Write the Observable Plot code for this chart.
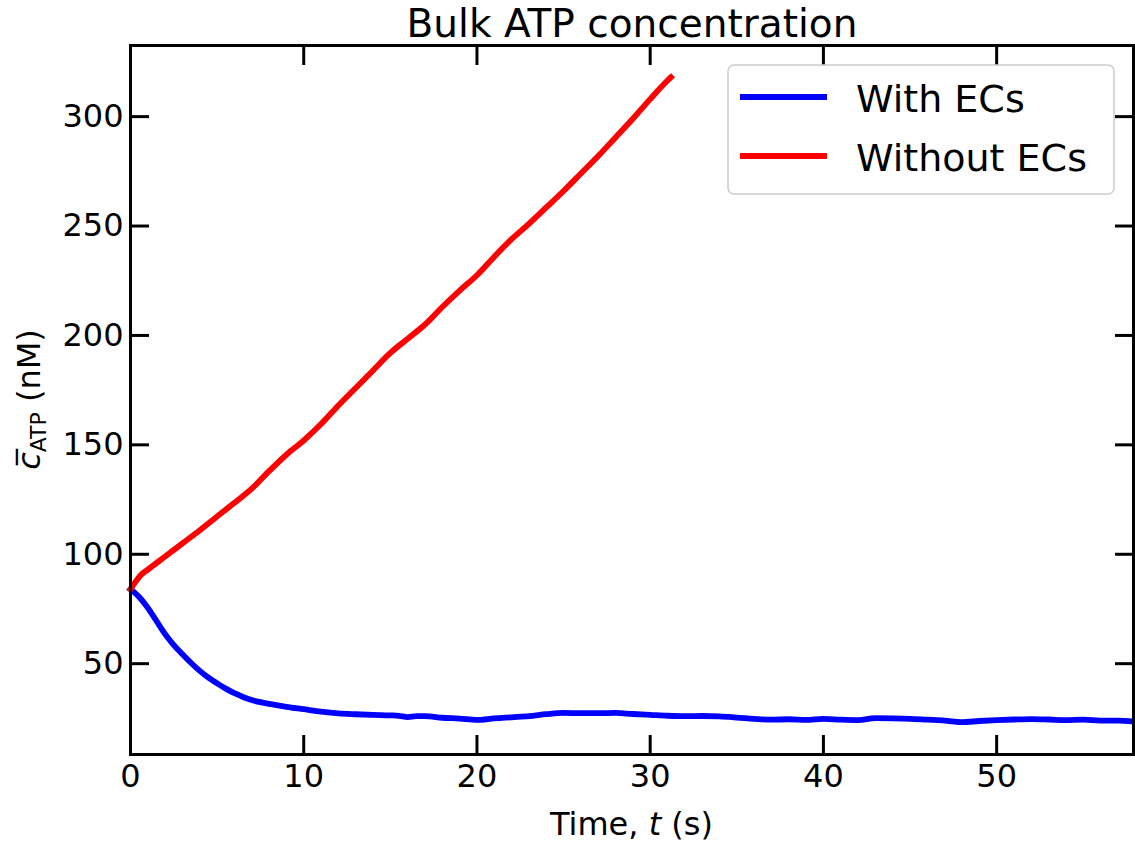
<!DOCTYPE html>
<html><head><meta charset="utf-8">
<script src="https://cdn.jsdelivr.net/npm/d3@7"></script>
<script src="https://cdn.jsdelivr.net/npm/@observablehq/plot@0.6"></script>
<style>body{margin:0;background:#fff} svg{display:block}</style>
</head><body><div id="chart"></div>
<script>
// Time (s) and bulk ATP concentration (nM)
const tWith = [0,0.5,1,1.5,2,2.5,3,3.5,4,4.5,5,5.5,6,6.5,7,7.5,8,9,10,11,12,13,14,15,15.5,16,16.5,17,18,19,20,21,22,23,24,25,26,27,28,29,30,31,32,33,34,35,36,37,38,39,40,41,42,43,44,45,46,47,48,49,50,51,52,53,54,55,56,57,57.9];
const cWith = [84,80.5,75.5,69.5,63.5,58.5,54.3,50.3,46.7,43.6,41,38.6,36.5,34.8,33.4,32.4,31.6,30.3,29.2,28.1,27.3,26.9,26.6,26.4,26.2,25.6,26,26,25.3,24.9,24.3,25,25.5,26,26.9,27.5,27.4,27.4,27.5,27,26.6,26.2,26,26.1,25.9,25.4,24.8,24.4,24.6,24.3,24.8,24.4,24.2,25.1,25,24.8,24.4,24,23.3,23.8,24.2,24.5,24.7,24.5,24.2,24.4,24,24,23.5];
const tWithout = [0,0.3,0.6,1,2,3,4,5,6,7,8,9,10,11,12,13,14,15,16,17,18,19,20,21,22,23,24,25,26,27,28,29,30,31,31.2];
const cWithout = [84,87.5,90.5,93,99,105,111,117.3,123.5,130,138,145.5,152,159.5,168,176,184,192,198.5,205,213,220.5,227.5,236,244,251,258.5,266,274,282,290.5,299,308,316.5,318];
const xTicks = [0,10,20,30,40,50];
const yTicks = [50,100,150,200,250,300];
const seriesNames = ["With ECs", "Without ECs"];
const seriesColors = ["#0000ff", "#ff0000"];
const titleText = "Bulk ATP concentration";

const rows = [
  ...tWith.map((t, i) => ({t, c: cWith[i], s: seriesNames[0]})),
  ...tWithout.map((t, i) => ({t, c: cWithout[i], s: seriesNames[1]}))
];

const W = 1135, H = 846, ml = 130, mr = 2, mt = 45, mb = 92;
const chart = Plot.plot({
  width: W, height: H,
  marginLeft: ml, marginRight: mr, marginTop: mt, marginBottom: mb,
  style: {fontFamily: "'DejaVu Sans', sans-serif", fontSize: "32px", color: "black", background: "white", overflow: "visible"},
  x: {domain: [0, 57.9]},
  y: {domain: [8.5, 332.5]},
  color: {domain: seriesNames, range: seriesColors},
  marks: [
    Plot.line(rows, {x: "t", y: "c", stroke: "s", z: "s", curve: "monotone-x", strokeWidth: 5.8, strokeLinecap: "square", strokeLinejoin: "round"}),
    Plot.frame({stroke: "black", strokeWidth: 3}),
    Plot.axisX(xTicks, {anchor: "bottom", tickSize: -19, strokeWidth: 3, fill: "none", label: null}),
    Plot.axisX(xTicks, {anchor: "top", tickSize: -19, strokeWidth: 3, fill: "none", label: null}),
    Plot.axisY(yTicks, {anchor: "left", tickSize: -19, strokeWidth: 3, fill: "none", label: null}),
    Plot.axisY(yTicks, {anchor: "right", tickSize: -19, strokeWidth: 3, fill: "none", label: null}),
    Plot.axisX(xTicks, {anchor: "bottom", tickSize: 0, tickPadding: 10, fontSize: 32, label: null}),
    Plot.axisY(yTicks, {anchor: "left", tickSize: 0, tickPadding: 7, fontSize: 32, label: null}),
    Plot.text([titleText], {frameAnchor: "top", dy: -9, lineAnchor: "bottom", fontSize: 39, fill: "black"})
  ]
});
document.getElementById("chart").appendChild(chart);

const svg = d3.select(chart);
const cx = (ml + W - mr) / 2, cy = (mt + H - mb) / 2;

// x-axis label
const xl = svg.append("text").attr("x", cx).attr("y", 835).attr("text-anchor", "middle")
  .attr("font-size", 32).attr("fill", "black");
xl.append("tspan").text("Time, ");
xl.append("tspan").attr("font-style", "italic").text("t");
xl.append("tspan").text(" (s)");

// y-axis label
const yl = svg.append("text").attr("transform", `translate(40,${cy}) rotate(-90)`)
  .attr("text-anchor", "middle").attr("font-size", 32).attr("fill", "black");
yl.append("tspan").attr("font-style", "italic").text("c\u0305");
yl.append("tspan").attr("font-size", 22).attr("dy", 6).text("ATP");
yl.append("tspan").attr("dy", -6).text(" (nM)");

// legend
const lg = svg.append("g");
lg.append("rect").attr("x", 728).attr("y", 65).attr("width", 386).attr("height", 129).attr("rx", 6)
  .attr("fill", "white").attr("fill-opacity", 0.8).attr("stroke", "#cccccc").attr("stroke-width", 1.5);
seriesNames.forEach((name, i) => {
  const y = 97 + i * 59;
  lg.append("line").attr("x1", 740).attr("x2", 827).attr("y1", y).attr("y2", y)
    .attr("stroke", seriesColors[i]).attr("stroke-width", 5.8);
  lg.append("text").attr("x", 856).attr("y", y + 14.5).attr("text-anchor", "start")
    .attr("font-size", 38).attr("fill", "black").text(name);
});
</script>
</body></html>
